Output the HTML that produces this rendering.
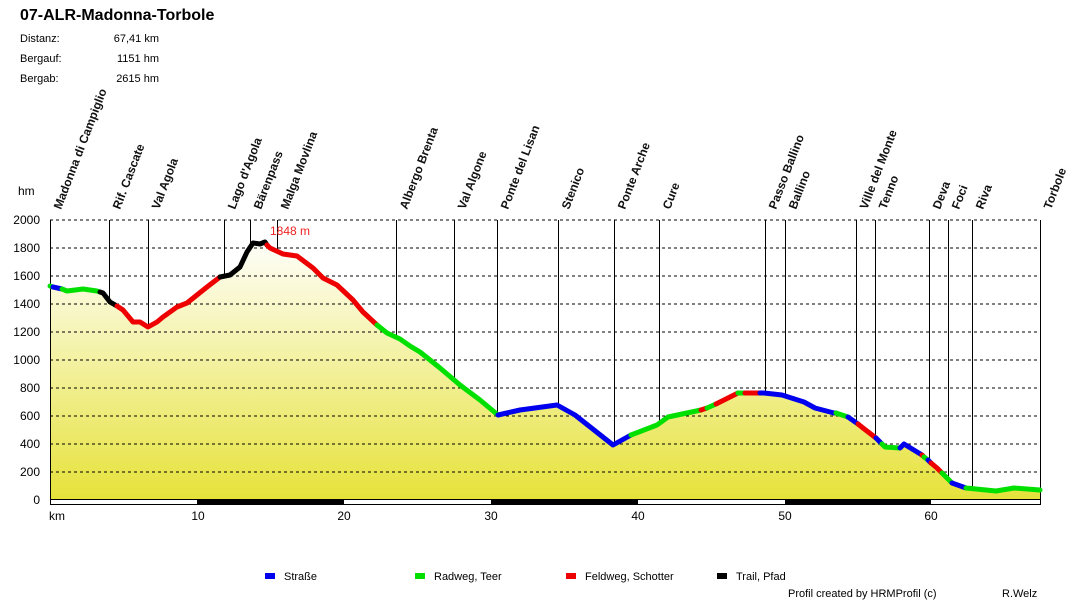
<!DOCTYPE html>
<html><head><meta charset="utf-8"><style>
body{margin:0;background:#fff;}
svg text{font-family:"Liberation Sans",Arial,sans-serif;}
</style></head><body>
<svg width="1090" height="600" viewBox="0 0 1090 600" xmlns="http://www.w3.org/2000/svg">
<defs>
<linearGradient id="g" x1="0" y1="235" x2="0" y2="500" gradientUnits="userSpaceOnUse">
<stop offset="0" stop-color="#ffffff"/><stop offset="1" stop-color="#e6e23a"/>
</linearGradient>
</defs>
<text x="20" y="20" font-size="16" font-weight="bold">07-ALR-Madonna-Torbole</text>
<g font-size="11">
<text x="20" y="42">Distanz:</text><text x="159" y="42" text-anchor="end">67,41 km</text>
<text x="20" y="62">Bergauf:</text><text x="159" y="62" text-anchor="end">1151 hm</text>
<text x="20" y="82">Bergab:</text><text x="159" y="82" text-anchor="end">2615 hm</text>
</g>
<path d="M50,286 L62,289 67,291 83,289 97,291 103,293 110,302 117,306 123,310 133,322 140,322 148,327 157,322 163,317 177,307 187,303 197,295 207,287 220,277 230,275 240,267 247,252 253,243 260,244 265,242 270,248 283,254 297,256 313,268 323,278 337,285 353,300 363,312 377,325 387,333 400,339 410,346 420,352 440,368 460,385 480,400 498,415 520,410 557,405 575,415 613,445 631,435 657,425 668,417 701,410 738,393 764,393 782,395 804,402 815,408 834,413 848,417 863,428 878,440 885,447 900,448 904,444 922,455 937,468 952,483 966,488 996,491 1014,488 1038,490 1040,490 L1040,500 L50,500 Z" fill="url(#g)"/>
<g stroke="#000" stroke-width="1" stroke-dasharray="3,3">
<line x1="50" y1="220" x2="1040" y2="220"/><line x1="50" y1="248" x2="1040" y2="248"/><line x1="50" y1="276" x2="1040" y2="276"/><line x1="50" y1="304" x2="1040" y2="304"/><line x1="50" y1="332" x2="1040" y2="332"/><line x1="50" y1="360" x2="1040" y2="360"/><line x1="50" y1="388" x2="1040" y2="388"/><line x1="50" y1="416" x2="1040" y2="416"/><line x1="50" y1="444" x2="1040" y2="444"/><line x1="50" y1="472" x2="1040" y2="472"/>
</g>
<g stroke="#000" stroke-width="1">
<line x1="109.5" y1="220" x2="109.5" y2="300"/><line x1="148.5" y1="220" x2="148.5" y2="326"/><line x1="224.5" y1="220" x2="224.5" y2="276"/><line x1="250.5" y1="220" x2="250.5" y2="243"/><line x1="277.5" y1="220" x2="277.5" y2="252"/><line x1="396.5" y1="220" x2="396.5" y2="338"/><line x1="454.5" y1="220" x2="454.5" y2="380"/><line x1="497.5" y1="220" x2="497.5" y2="415"/><line x1="558.5" y1="220" x2="558.5" y2="405"/><line x1="614.5" y1="220" x2="614.5" y2="445"/><line x1="659.5" y1="220" x2="659.5" y2="423"/><line x1="765.5" y1="220" x2="765.5" y2="393"/><line x1="785.5" y1="220" x2="785.5" y2="395"/><line x1="856.5" y1="220" x2="856.5" y2="422"/><line x1="875.5" y1="220" x2="875.5" y2="437"/><line x1="929.5" y1="220" x2="929.5" y2="461"/><line x1="948.5" y1="220" x2="948.5" y2="480"/><line x1="972.5" y1="220" x2="972.5" y2="489"/><line x1="1040.5" y1="220" x2="1040.5" y2="500"/>
<line x1="50.5" y1="220" x2="50.5" y2="505"/>
</g>
<rect x="50.5" y="499.5" width="990" height="5" fill="#fff" stroke="#000"/>
<rect x="197" y="500" width="147" height="5" fill="#000"/><rect x="491" y="500" width="147" height="5" fill="#000"/><rect x="785" y="500" width="146" height="5" fill="#000"/>
<g fill="none" stroke-width="5" stroke-linejoin="round" stroke-linecap="round">
<polyline stroke="#00e000" points="50,286 53,287"/>
<polyline stroke="#0000ee" points="53,287 62,289"/>
<polyline stroke="#00e000" points="62,289 67,291 83,289 97,291 100,292"/>
<polyline stroke="#000" points="100,292 103,293 110,302 117,306"/>
<polyline stroke="#ee0000" points="117,306 123,310 133,322 140,322 148,327 157,322 163,317 177,307 187,303 197,295 207,287 220,277"/>
<polyline stroke="#000" points="220,277 230,275 240,267 247,252 253,243 260,244 265,242 267,245"/>
<polyline stroke="#ee0000" points="267,245 270,248 283,254 297,256 313,268 323,278 337,285 353,300 363,312 377,325"/>
<polyline stroke="#00e000" points="377,325 387,333 400,339 410,346 420,352 440,368 460,385 480,400 498,415"/>
<polyline stroke="#0000ee" points="498,415 520,410 557,405 575,415 613,445 631,435"/>
<polyline stroke="#00e000" points="631,435 657,425 668,417 701,410"/>
<polyline stroke="#ee0000" points="701,410 707,408"/>
<polyline stroke="#00e000" points="707,408 716,404"/>
<polyline stroke="#ee0000" points="716,404 738,393"/>
<polyline stroke="#00e000" points="738,393 745,393"/>
<polyline stroke="#ee0000" points="745,393 760,393"/>
<polyline stroke="#0000ee" points="760,393 764,393 782,395 804,402 815,408 834,413 836,413"/>
<polyline stroke="#00e000" points="836,413 848,417"/>
<polyline stroke="#0000ee" points="848,417 858,424"/>
<polyline stroke="#ee0000" points="858,424 863,428 876,438"/>
<polyline stroke="#0000ee" points="876,438 882,444"/>
<polyline stroke="#00e000" points="882,444 885,447 900,448"/>
<polyline stroke="#0000ee" points="900,448 904,444 922,455"/>
<polyline stroke="#ee0000" points="922,455 924,457"/>
<polyline stroke="#00e000" points="924,457 928,460"/>
<polyline stroke="#0000ee" points="928,460 931,463"/>
<polyline stroke="#ee0000" points="931,463 937,468 942,473"/>
<polyline stroke="#00e000" points="942,473 952,483"/>
<polyline stroke="#0000ee" points="952,483 966,488"/>
<polyline stroke="#00e000" points="966,488 996,491 1014,488 1040,490"/>
</g>
<text x="270" y="235" font-size="12" fill="#ee2222">1848 m</text>
<g font-size="12" text-anchor="end">
<text x="40" y="224">2000</text><text x="40" y="252">1800</text><text x="40" y="280">1600</text><text x="40" y="308">1400</text><text x="40" y="336">1200</text><text x="40" y="364">1000</text><text x="40" y="392">800</text><text x="40" y="420">600</text><text x="40" y="448">400</text><text x="40" y="476">200</text><text x="40" y="504">0</text>
</g>
<text x="18" y="195" font-size="12">hm</text>
<g font-size="12" text-anchor="middle">
<text x="57" y="520">km</text><text x="198" y="520">10</text><text x="344" y="520">20</text><text x="491" y="520">30</text><text x="638" y="520">40</text><text x="785" y="520">50</text><text x="931" y="520">60</text>
</g>
<g font-size="12" font-weight="bold" fill="#111">
<text transform="translate(61,210) rotate(-69)">Madonna di Campiglio</text>
<text transform="translate(120,210) rotate(-69)">Rif. Cascate</text>
<text transform="translate(159,210) rotate(-69)">Val Agola</text>
<text transform="translate(235,210) rotate(-69)">Lago d'Agola</text>
<text transform="translate(261,210) rotate(-69)">Bärenpass</text>
<text transform="translate(288,210) rotate(-69)">Malga Movlina</text>
<text transform="translate(407,210) rotate(-69)">Albergo Brenta</text>
<text transform="translate(465,210) rotate(-69)">Val Algone</text>
<text transform="translate(508,210) rotate(-69)">Ponte del Lisan</text>
<text transform="translate(569,210) rotate(-69)">Stenico</text>
<text transform="translate(625,210) rotate(-69)">Ponte Arche</text>
<text transform="translate(670,210) rotate(-69)">Cure</text>
<text transform="translate(776,210) rotate(-69)">Passo Ballino</text>
<text transform="translate(796,210) rotate(-69)">Ballino</text>
<text transform="translate(867,210) rotate(-69)">Ville del Monte</text>
<text transform="translate(886,210) rotate(-69)">Tenno</text>
<text transform="translate(940,210) rotate(-69)">Deva</text>
<text transform="translate(959,210) rotate(-69)">Foci</text>
<text transform="translate(983,210) rotate(-69)">Riva</text>
<text transform="translate(1051,210) rotate(-69)">Torbole</text>
</g>
<g font-size="11">
<rect x="265" y="573" width="10" height="6" fill="#0000ee"/><text x="284" y="580">Straße</text>
<rect x="415" y="573" width="10" height="6" fill="#00e000"/><text x="434" y="580">Radweg, Teer</text>
<rect x="566" y="573" width="10" height="6" fill="#ee0000"/><text x="585" y="580">Feldweg, Schotter</text>
<rect x="717" y="573" width="10" height="6" fill="#000"/><text x="736" y="580">Trail, Pfad</text>
<text x="788" y="597">Profil created by HRMProfil (c)</text>
<text x="1002" y="597">R.Welz</text>
</g>
</svg>
</body></html>
